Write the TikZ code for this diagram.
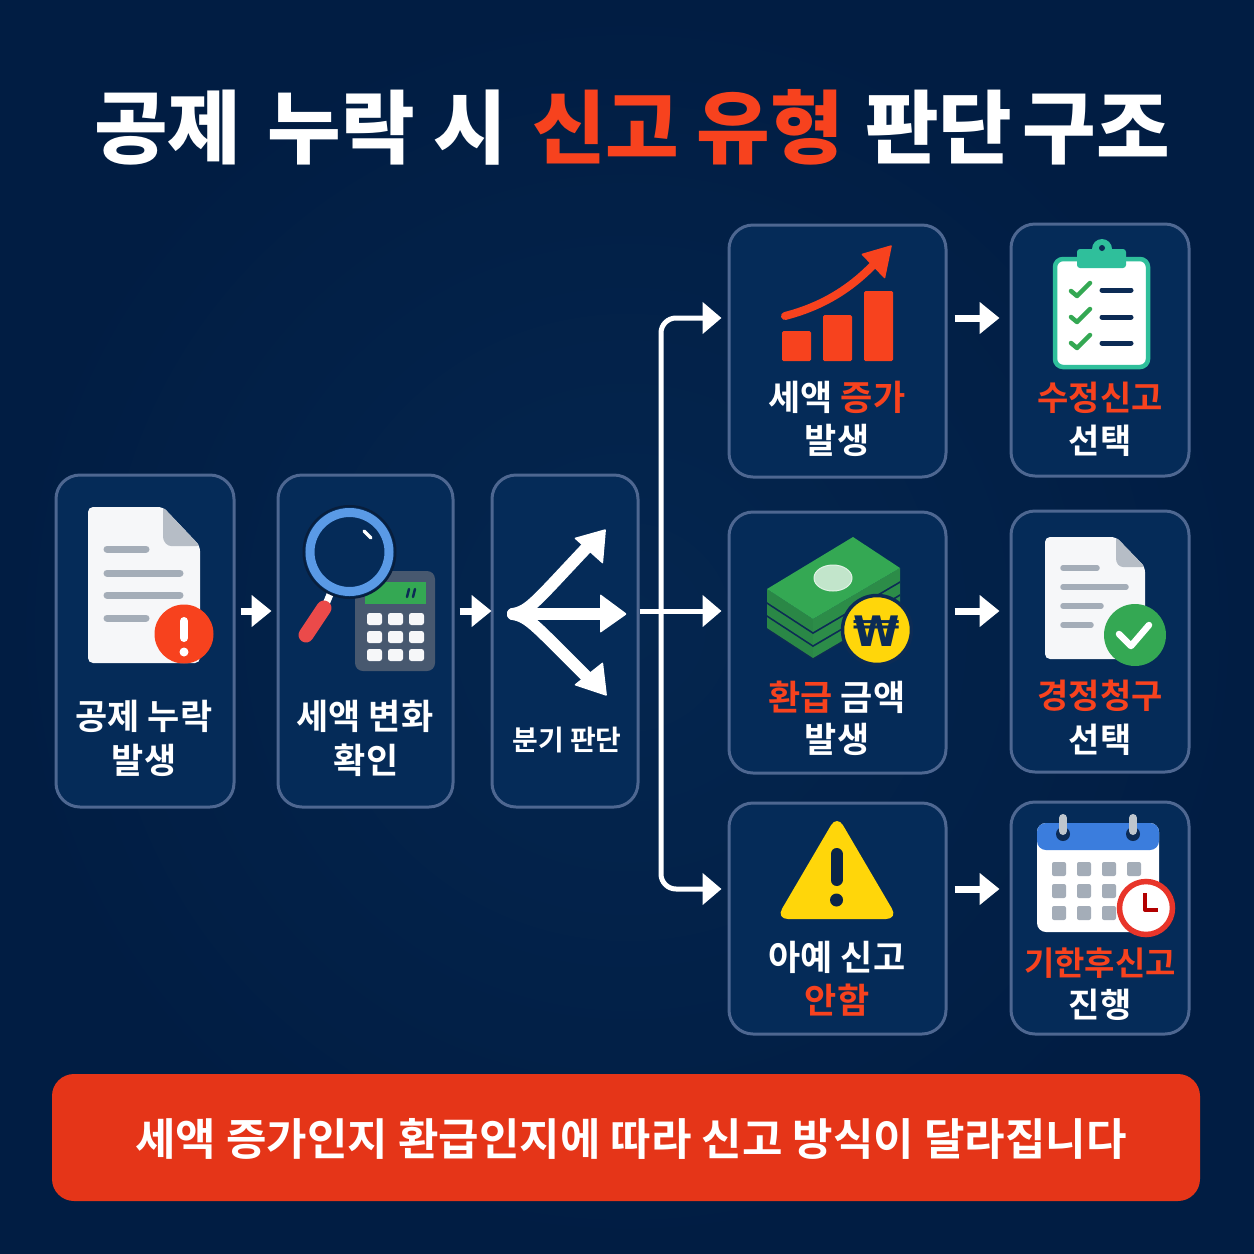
\documentclass[tikz,border=0pt]{standalone}
\usepackage{fontspec}
\setmainfont{Noto Sans CJK KR}[BoldFont={Noto Sans CJK KR Bold}]
\newfontfamily\heavykr{Noto Sans CJK KR Black}
\newfontfamily\wonfont{DejaVu Sans Bold}
\usetikzlibrary{arrows.meta,calc}
\definecolor{bgin}{HTML}{04264F}
\definecolor{bgout}{HTML}{011D43}
\definecolor{panelfill}{HTML}{052B58}
\definecolor{panelline}{HTML}{4E6791}
\definecolor{redt}{HTML}{F7421E}
\definecolor{barred}{HTML}{E53518}
\definecolor{grayl}{HTML}{A4ADB8}
\definecolor{navy}{HTML}{0C2B55}
\definecolor{greenc}{HTML}{34A853}
\definecolor{greend}{HTML}{2A8746}
\definecolor{yel}{HTML}{FFD60A}
\definecolor{teal}{HTML}{2FBF9B}
\definecolor{paper}{HTML}{F6F7F9}
\definecolor{calcg}{HTML}{47586F}
\definecolor{lensb}{HTML}{5A9AE6}
\definecolor{calblue}{HTML}{3B7DDD}
\definecolor{clockr}{HTML}{E8352A}
\definecolor{handler}{HTML}{EB4A4A}
\tikzset{
 panel/.style={draw=panelline,fill=panelfill,line width=3pt,rounded corners=24pt,inner sep=0pt},
 lbl/.style={font=\bfseries\fontsize{35}{35}\selectfont,text=white,inner sep=0pt},
 slbl/.style={font=\bfseries\fontsize{34}{34}\selectfont,text=white,inner sep=0pt},
 conn/.style={draw=white,line width=7pt,-{Triangle[width=31pt,length=20pt]}},
 thin conn/.style={draw=white,line width=5pt,rounded corners=15pt,-{Triangle[width=31pt,length=19pt]}},
 gline/.style={draw=grayl,line width=7pt,line cap=round},
 gline2/.style={draw=grayl,line width=5.5pt,line cap=round},
 cellc/.style={fill=grayl,rounded corners=2pt},
 keyc/.style={fill=paper,rounded corners=2.5pt},
 checkm/.style={draw=greenc,line width=4.5pt,line cap=round,line join=round},
 navyl/.style={draw=navy,line width=5pt,line cap=round}
}
\newcommand{\hl}[1]{\textcolor{redt}{#1}}
\begin{document}
\begin{tikzpicture}[x=1pt,y=-1pt]
\useasboundingbox (0,0) rectangle (1254,1254);
\shade[inner color=bgin,outer color=bgout] (0,0) rectangle (1254,1254);
\node[inner sep=0pt,font=\heavykr\fontsize{80}{80}\selectfont,text=white] (title) at (632,127) {공제\hspace{8pt} 누락 시\hspace{7pt} \textcolor{redt}{신고\hspace{-1pt} 유형}\hspace{3pt} 판단\hspace{-8pt} 구조};
% panels
\node[panel,minimum width=178pt,minimum height=332pt] (a) at (145,641) {};
\node[panel,minimum width=175pt,minimum height=332pt] (b) at (365.5,641) {};
\node[panel,minimum width=146pt,minimum height=332pt] (c) at (565,641) {};
\node[panel,minimum width=217pt,minimum height=252pt] (d1) at (837.5,351) {};
\node[panel,minimum width=178pt,minimum height=252pt] (e1) at (1100,350) {};
\node[panel,minimum width=217pt,minimum height=261pt] (d2) at (837.5,642.5) {};
\node[panel,minimum width=178pt,minimum height=261pt] (e2) at (1100,641.5) {};
\node[panel,minimum width=217pt,minimum height=231pt] (d3) at (837.5,918.5) {};
\node[panel,minimum width=178pt,minimum height=232pt] (e3) at (1100,918) {};
\node[fill=barred,rounded corners=22pt,minimum width=1148pt,minimum height=127pt,inner sep=0pt] (bar) at (626,1137.5) {};
\node[inner sep=0pt,font=\bfseries\fontsize{44}{44}\selectfont,text=white] (bartext) at (631,1139) {세액 증가인지 환급인지에 따라 신고 방식이 달라집니다};
% connectors
\coordinate (r1) at (0,318);
\coordinate (r2) at (0,611);
\coordinate (r3) at (0,889);
\coordinate (spine) at (661,611);
\draw[conn,shorten <=5pt,shorten >=5pt] (a.east |- r2) -- (b.west |- r2);
\draw[conn,shorten <=5pt,shorten >=-1pt] (b.east |- r2) -- (c.west |- r2);
\draw[thin conn,shorten >=6pt] (c.east |- r2) -- (d2.west |- r2);
\draw[thin conn,shorten >=6pt] (spine) |- (d1.west |- r1);
\draw[thin conn,shorten >=6pt] (spine) |- (d3.west |- r3);
\draw[conn,shorten <=7pt,shorten >=10pt] (d1.east |- r1) -- (e1.west |- r1);
\draw[conn,shorten <=7pt,shorten >=10pt] (d2.east |- r2) -- (e2.west |- r2);
\draw[conn,shorten <=7pt,shorten >=10pt] (d3.east |- r3) -- (e3.west |- r3);
% labels
\node[lbl] (la1) at (144,716) {공제 누락};
\node[lbl] (la2) at (144,760) {발생};
\node[lbl] (lb1) at (365,716) {세액 변화};
\node[lbl] (lb2) at (366,760) {확인};
\node[lbl,font=\bfseries\fontsize{28}{28}\selectfont] (lc) at (567,740) {분기 판단};
\node[lbl] (ld1a) at (837,397) {세액 \hl{증가}};
\node[lbl] (ld1b) at (837,440) {발생};
\node[lbl] (ld2a) at (837,697) {\hl{환급} 금액};
\node[lbl] (ld2b) at (837,739) {발생};
\node[lbl] (ld3a) at (837,957) {아예 신고};
\node[lbl,text=redt] (ld3b) at (837,1000) {안함};
\node[slbl,text=redt] (le1a) at (1100,398) {수정신고};
\node[slbl] (le1b) at (1100,441) {선택};
\node[slbl,text=redt] (le2a) at (1100,696) {경정청구};
\node[slbl] (le2b) at (1100,740) {선택};
\node[slbl,text=redt,font=\bfseries\fontsize{33}{33}\selectfont] (le3a) at (1100,963) {기한후신고};
\node[slbl] (le3b) at (1100,1005) {진행};
% doc icon A
\fill[paper,rounded corners=5pt] (88,507) -- (163,507) -- (200,546) -- (200,663) -- (88,663) -- cycle;
\fill[grayl!80!white,rounded corners=3pt] (163,507) -- (200,546) -- (168,546) -- (163,540) -- cycle;
\draw[gline] (107,549) -- (146,549) (107,573) -- (180,573) (107,595) -- (180,595) (107,618) -- (146,618);
\fill[redt] (184,634) circle (29.5);
\draw[white,line width=8pt,line cap=round] (184,621) -- (184,638);
\fill[white] (184,652) circle (4.5);
% calculator + magnifier
\fill[calcg,rounded corners=8pt] (355,571) rectangle (435,671);
\fill[greenc] (365,582) rectangle (426,604);
\draw[navy,line width=2.5pt,line cap=round] (407,597) -- (409,589) (413,597) -- (415,589);
\foreach \kx in {367,388,409}{\foreach \ky in {613,631,649}{
  \fill[keyc] (\kx,\ky) rectangle ++(15,12);}}
\draw[white,line width=7pt] (331,592) -- (326,604);
\draw[handler,line width=15pt,line cap=round] (324,608) -- (306,635);
\fill[panelfill,draw=navy!70!black,line width=2pt] (349.5,552) circle (46);
\fill[panelfill,draw=lensb,line width=9pt] (349.5,552) circle (39.5);
\draw[white,line width=3.5pt,line cap=round] (364,531) -- (371,538);
% branch icon
\draw[white,line width=12pt,line cap=round] (513,614) -- (604,614);
\draw[white,line width=12pt,line cap=round] (513,614) .. controls (530,611) and (536,601) .. (592,542);
\draw[white,line width=12pt,line cap=round] (513,614) .. controls (530,617) and (536,627) .. (592,682);
\fill[white,rounded corners=1pt] (606,529) -- (574,538) -- (603,564) -- cycle;
\fill[white,rounded corners=1pt] (627,614) -- (600,594) -- (600,633) -- cycle;
\fill[white,rounded corners=1pt] (607,696) -- (574,685) -- (603,662) -- cycle;
% growth icon
\fill[redt,rounded corners=1.5pt] (782,331) rectangle (811,361);
\fill[redt,rounded corners=1.5pt] (823,315) rectangle (852,361);
\fill[redt,rounded corners=1.5pt] (864,291) rectangle (893,361);
\draw[redt,line width=8pt,line cap=round] (785,316) .. controls (820,307) and (850,290) .. (876,262);
\fill[redt,rounded corners=1pt] (892,245) -- (861,254) -- (885,279) -- cycle;
% clipboard
\draw[teal,fill=white,line width=4.5pt,rounded corners=8pt] (1055,259) rectangle (1148,367);
\fill[teal,rounded corners=3pt] (1077,249) rectangle (1126,268);
\fill[teal] (1102,249) circle (10);
\fill[navy] (1102,248) circle (3);
\draw[checkm] (1071,291) -- (1077,296) -- (1090,283);
\draw[checkm] (1071,317) -- (1077,322) -- (1090,309);
\draw[checkm] (1071,343) -- (1077,348) -- (1090,335);
\draw[navyl] (1102,290) -- (1131,290) (1102,317) -- (1131,317) (1102,343) -- (1131,343);
% money
\foreach \dy in {26,13,0}{
 \begin{scope}[shift={(0,\dy)}]
 \fill[navy] (767,589) -- (767,604) -- (813,634) -- (900,583) -- (900,568) -- cycle;
 \fill[greend] (767,589) -- (767,602) -- (813,632) -- (813,619) -- cycle;
 \fill[greend!85!greenc] (813,619) -- (813,632) -- (900,581) -- (900,568) -- cycle;
 \fill[greenc] (853,537) -- (900,568) -- (813,619) -- (767,589) -- cycle;
 \end{scope}}
\fill[white!70!greenc,draw=white!85!greenc,line width=1pt] (833,578) ellipse (19 and 13);
\fill[yel,draw=navy,line width=3.5pt] (877,630) circle (34.5);
\node[inner sep=0pt,font=\wonfont\fontsize{42}{42}\selectfont,text=navy] (won) at (877,631) {₩};
% doc icon E2
\fill[paper,rounded corners=5pt] (1045,537) -- (1116,537) -- (1145,567) -- (1145,659) -- (1045,659) -- cycle;
\fill[grayl!80!white,rounded corners=3pt] (1116,537) -- (1145,567) -- (1120,567) -- (1116,562) -- cycle;
\draw[gline2] (1063,568) -- (1097,568) (1063,587) -- (1126,587) (1063,606) -- (1101,606) (1063,625) -- (1091,625);
\fill[greenc] (1135,635) circle (31);
\draw[white,line width=6.5pt,line cap=round,line join=round] (1119,634) -- (1131,646) -- (1149,625);
% warning
\fill[yel,rounded corners=12pt] (837,815) -- (898,919) -- (776,919) -- cycle;
\draw[navy!85!black,line width=12pt,line cap=round] (836.5,854) -- (836.5,880);
\fill[navy!85!black] (836.5,900) circle (6.5);
% calendar
\fill[white,rounded corners=9pt] (1037,823) rectangle (1159,932);
\fill[calblue,rounded corners=9pt] (1037,850) -- (1037,823) -- (1159,823) -- (1159,850) -- cycle;
\fill[navy] (1063,834) circle (7) (1133,834) circle (7);
\draw[grayl!70!white,line width=8pt,line cap=round] (1063,818) -- (1063,831) (1133,818) -- (1133,831);
\foreach \cy in {862,884,906}{\foreach \cx in {1052,1077,1102}{
  \fill[cellc] (\cx,\cy) rectangle ++(14,14);}}
\fill[cellc] (1127,862) rectangle ++(14,14);
\fill[white,draw=clockr,line width=5.5pt] (1146,908) circle (26.5);
\draw[red!70!black,line width=4pt,line join=round] (1145,893) -- (1145,910) -- (1158,910);
\end{tikzpicture}
\end{document}
